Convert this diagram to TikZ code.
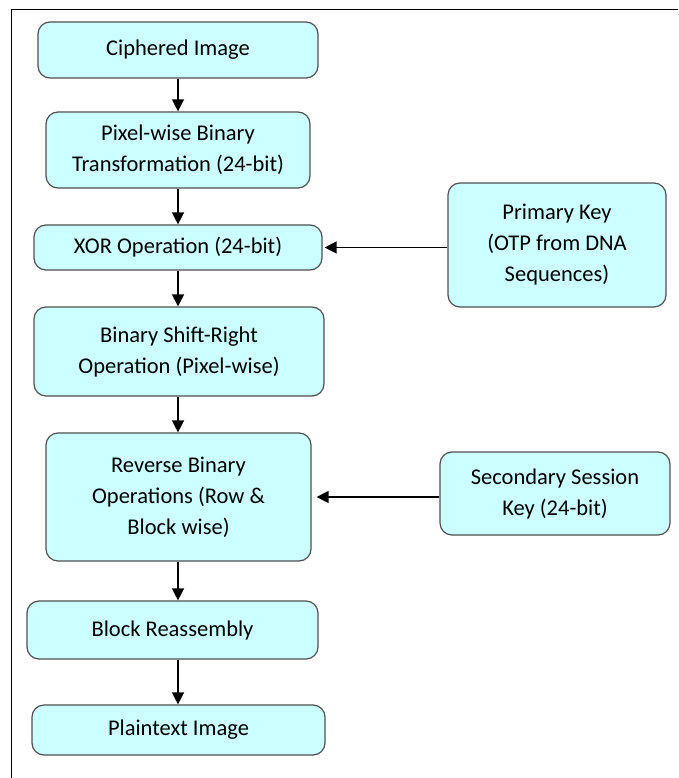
\documentclass[tikz,border=0pt]{standalone}
\usepackage{fontspec}
\setmainfont{Carlito}
\usetikzlibrary{arrows.meta, positioning}
\usepackage{xcolor}
\definecolor{stepfill}{HTML}{CCFFFF}
\definecolor{stepline}{HTML}{505050}

\begin{document}
\begin{tikzpicture}[x=1pt, y=-1pt,
  stepbox/.style={draw=stepline, line width=1.2pt, fill=stepfill, rounded corners=12pt,
    align=center, font=\fontsize{22.5}{31}\selectfont, inner sep=0pt},
  flow/.style={line width=1.4pt, -{Triangle[length=12pt, width=12pt]}}]
  \useasboundingbox (0,0) rectangle (678,778);

  % Frame
  \draw[line width=1pt] (678,10) -- (11,10) -- (11,778);

  % Main column
  \node[stepbox, minimum width=280pt, minimum height=56pt] (cipher) at (178,50) {Ciphered Image};
  \node[stepbox, minimum width=264pt, minimum height=76pt] (pixel) at (178,150) {Pixel-wise Binary\\Transformation (24-bit)};
  \node[stepbox, minimum width=288pt, minimum height=45pt] (xor) at (178,247.5) {XOR Operation (24-bit)};
  \node[stepbox, minimum width=290pt, minimum height=89pt] (shift) at (179,351.5) {Binary Shift-Right\\Operation (Pixel-wise)};
  \node[stepbox, minimum width=265pt, minimum height=128pt] (reverse) at (178.5,497) {Reverse Binary\\Operations (Row \&\\Block wise)};
  \node[stepbox, minimum width=291pt, minimum height=58pt] (reasm) at (172.5,630) {Block Reassembly};
  \node[stepbox, minimum width=293pt, minimum height=50pt] (plain) at (178.5,730) {Plaintext Image};

  % Keys
  \node[stepbox, minimum width=218pt, minimum height=124pt] (pkey) at (557,245) {Primary Key\\(OTP from DNA\\Sequences)};
  \node[stepbox, minimum width=230pt, minimum height=83pt] (skey) at (555,493.5) {Secondary Session\\Key (24-bit)};

  % Arrows
  \draw[flow] (cipher.south -| 178,0) -- (pixel.north -| 178,0);
  \draw[flow] (pixel.south -| 178,0) -- (xor.north -| 178,0);
  \draw[flow] (xor.south -| 178,0) -- (shift.north -| 178,0);
  \draw[flow] (shift.south -| 178,0) -- (reverse.north -| 178,0);
  \draw[flow] (reverse.south -| 178,0) -- (reasm.north -| 178,0);
  \draw[flow] (reasm.south -| 178,0) -- (plain.north -| 178,0);
  \draw[flow] (pkey.west |- xor.east) -- ([xshift=2pt]xor.east);
  \draw[flow] (skey.west |- reverse.east) -- ([xshift=5pt]reverse.east);
\end{tikzpicture}
\end{document}
